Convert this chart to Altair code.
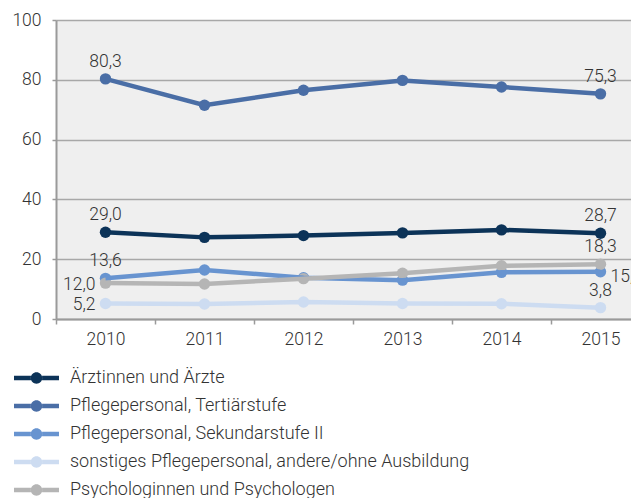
import altair as alt
import pandas as pd

years = ["2010", "2011", "2012", "2013", "2014", "2015"]
series = [
    "Ärztinnen und Ärzte",
    "Pflegepersonal, Tertiärstufe",
    "Pflegepersonal, Sekundarstufe II",
    "sonstiges Pflegepersonal, andere/ohne Ausbildung",
    "Psychologinnen und Psychologen",
]
aerzte = [29.0, 27.3, 27.9, 28.8, 29.8, 28.7]
tertiaer = [80.3, 71.5, 76.5, 79.8, 77.6, 75.3]
sekundar = [13.6, 16.4, 13.8, 13.0, 15.6, 15.8]
sonstige = [5.2, 5.0, 5.7, 5.2, 5.1, 3.8]
psych = [12.0, 11.7, 13.5, 15.3, 17.8, 18.3]
colors = ["#0c3358", "#4a6ea6", "#6894d0", "#cddcf1", "#b5b5b5"]

values = [aerzte, tertiaer, sekundar, sonstige, psych]
draw_order = [0, 1, 4, 2, 3]
rows = []
for i, (s, vals) in enumerate(zip(series, values)):
    for y, v in zip(years, vals):
        rows.append({"serie": s, "jahr": y, "wert": v, "ord": draw_order[i]})
df = pd.DataFrame(rows)

font = "Roboto"
weight = 300
fs = 17.5
x = alt.X("jahr:O",
          scale=alt.Scale(type="band", paddingInner=0, paddingOuter=0, range=[0, 594]),
          axis=alt.Axis(title=None, labelAngle=0, tickBand="extent"))
y = alt.Y("wert:Q", scale=alt.Scale(domain=[0, 100], nice=False),
          axis=alt.Axis(title=None, values=[0, 20, 40, 60, 80, 100]))

# legend symbol: line with a dot, drawn beyond the small nominal symbol box
legend_path = ("M-3.21,-0.31 H-0.8 V0.31 H-3.21 Z M0.8,-0.31 H3.21 V0.31 H0.8 Z "
               "M-0.82,0 A0.82,0.82 0 1,0 0.82,0 A0.82,0.82 0 1,0 -0.82,0 Z")
leg = alt.Legend(title=None, orient="none", legendX=-28.5, legendY=349,
                 direction="vertical", symbolType=legend_path,
                 symbolSize=196, symbolStrokeWidth=0,
                 symbolOpacity=1, labelFont=font, labelFontSize=18, labelFontWeight=weight,
                 labelColor="#333333", labelOffset=24.5,
                 rowPadding=10, labelLimit=600)
color = alt.Color("serie:N", scale=alt.Scale(domain=series, range=colors), legend=leg)

base = alt.Chart(df)

points = base.mark_point(filled=True, size=130, opacity=1).encode(x=x, y=y, color=color)
lines = base.mark_line(strokeWidth=4.5).encode(
    x=x, y=y, color=color, detail="serie:N", order="ord:Q"
)

lab = base.transform_filter(
    "datum.jahr == '2010' || datum.jahr == '2015'"
).transform_calculate(
    txt="replace(format(datum.wert, '.1f'), '.', ',')"
)

left_cond = ("datum.jahr == '2010' && (datum.serie == '" + series[3] + "' || datum.serie == '"
             + series[4] + "')")
right_cond = "datum.jahr == '2015' && datum.serie == '" + series[2] + "'"

txt_enc = dict(x=x, y=y, text="txt:N")
tstyle = dict(font=font, fontSize=fs, fontWeight=weight, color="#333333", baseline="middle")
above = lab.transform_filter(f"!({left_cond}) && !({right_cond})").mark_text(
    dy=-17, **tstyle
).encode(**txt_enc)
left = lab.transform_filter(left_cond).mark_text(
    dx=-10, dy=2, align="right", **tstyle
).encode(**txt_enc)
right = lab.transform_filter(right_cond).mark_text(
    dx=10, dy=5, align="left", **tstyle
).encode(**txt_enc)

chart = alt.layer(points, lines, above, left, right).properties(
    width=575, height=299,
    autosize=alt.AutoSizeParams(type="none"),
    padding={"left": 48, "top": 12, "right": 0, "bottom": 182},
).configure_view(
    fill="#efefef", stroke=None
).configure_axis(
    labelFont=font, labelFontSize=fs, labelFontWeight=weight, labelColor="#333333",
    domainColor="#9a9a9a", domainWidth=2, tickColor="#9a9a9a", tickWidth=1.5,
).configure_axisX(
    grid=False, tickSize=5, labelPadding=6,
).configure_axisY(
    grid=True, gridColor="#a8a8a8", gridWidth=1.3, tickSize=4, labelPadding=11,
)

chart.save("out.html", embed_options={"renderer": "svg", "actions": False})
